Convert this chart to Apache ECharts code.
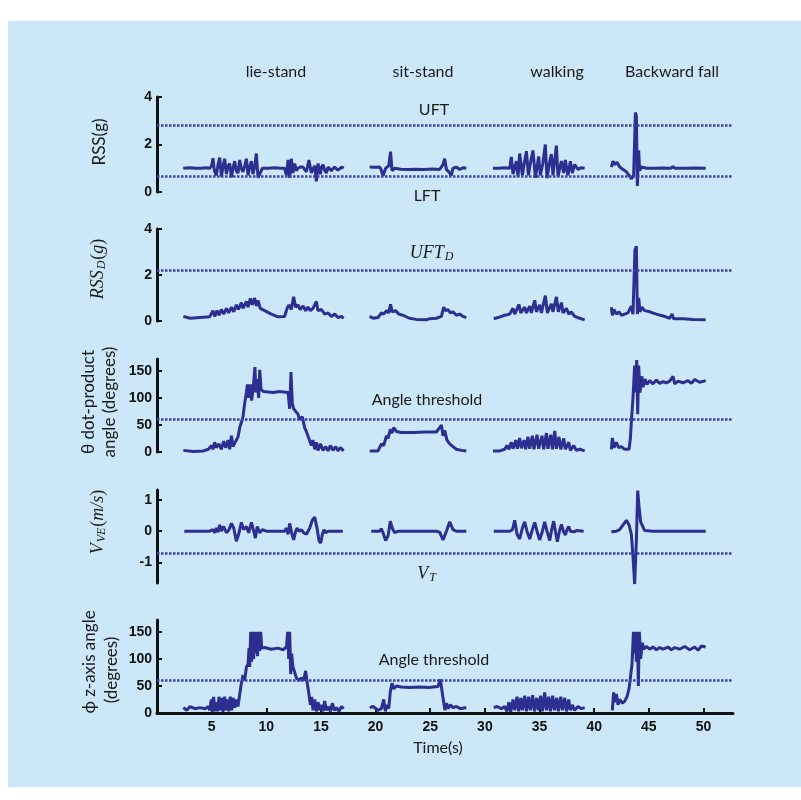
<!DOCTYPE html>
<html>
<head>
<meta charset="utf-8">
<script src="https://cdn.jsdelivr.net/npm/echarts@6/dist/echarts.min.js"></script>
<style>
  html, body { margin: 0; padding: 0; background: #ffffff; }
  #chart { width: 801px; height: 800px; }
</style>
</head>
<body>
<div id="chart"></div>
<script>
// Time axis ticks (s)
const timeTicks = [5, 10, 15, 20, 25, 30, 35, 40, 45, 50];

// Thresholds
const uft = 2.8, lft = 0.65, uftD = 2.2, angleTh = 60, vT = -0.72;

// RSS(g) - one array per activity
const rssLie = [[2.4,1.0],[3.0,1.02],[3.5,1.0],[4.0,1.0],[4.5,1.02],[4.82,1.0],[5.0,1.1],[5.12,1.42],[5.25,0.9],[5.43,0.7],[5.6,1.2],[5.74,1.45],[5.89,0.65],[6.05,1.1],[6.19,1.4],[6.35,0.75],[6.5,1.1],[6.65,1.2],[6.81,0.62],[6.95,1.0],[7.11,1.3],[7.25,0.9],[7.41,0.8],[7.57,1.35],[7.7,1.0],[7.87,0.85],[8.05,1.15],[8.18,1.4],[8.33,0.7],[8.5,1.1],[8.64,1.3],[8.78,0.75],[8.95,1.1],[9.09,1.62],[9.24,0.6],[9.4,0.52],[9.64,1.0],[10.2,1.0],[10.8,1.02],[11.3,1.0],[11.68,1.0],[11.84,0.7],[11.99,1.35],[12.14,0.6],[12.29,1.4],[12.44,0.8],[12.6,1.2],[12.75,0.9],[12.9,1.0],[13.1,1.05],[13.36,1.05],[13.5,0.95],[13.67,0.85],[13.9,1.35],[14.12,0.8],[14.3,1.0],[14.43,1.1],[14.58,0.45],[14.73,1.2],[14.95,0.75],[15.05,1.05],[15.19,1.15],[15.35,0.9],[15.5,0.8],[15.65,1.05],[15.8,1.1],[15.95,0.9],[16.1,0.9],[16.25,1.05],[16.41,1.1],[16.55,0.92],[16.7,0.9],[16.9,1.05],[17.08,1.0]];
const rssSit = [[19.46,1.05],[19.9,1.04],[20.37,1.05],[20.5,0.95],[20.68,0.68],[20.92,1.0],[21.2,1.1],[21.37,1.7],[21.5,0.9],[21.75,1.0],[22.3,0.96],[23.0,0.95],[23.7,0.96],[24.4,0.95],[25.2,0.97],[25.86,0.95],[26.17,1.15],[26.32,1.4],[26.48,0.95],[26.7,0.85],[26.93,0.7],[27.08,1.0],[27.39,1.05],[27.69,0.95],[28.0,1.02],[28.3,1.0]];
const rssWalk = [[30.74,1.0],[31.3,1.0],[31.8,1.02],[32.27,1.0],[32.42,1.48],[32.57,0.75],[32.88,1.3],[33.03,0.65],[33.18,1.62],[33.43,0.7],[33.6,1.2],[33.8,1.72],[33.98,0.7],[34.2,1.3],[34.4,1.75],[34.62,0.6],[34.92,1.5],[35.07,0.7],[35.3,1.2],[35.53,2.0],[35.68,0.58],[35.9,1.2],[36.08,1.6],[36.23,0.7],[36.54,1.95],[36.69,0.65],[36.85,1.0],[37.0,1.3],[37.21,0.8],[37.36,1.35],[37.6,0.7],[37.82,1.3],[38.0,0.8],[38.21,1.15],[38.52,0.95],[38.8,1.02],[39.13,1.0]];
const rssFall = [[41.57,1.05],[41.72,1.3],[41.87,1.15],[42.09,1.25],[42.33,1.05],[42.64,0.95],[42.95,0.85],[43.19,0.7],[43.4,0.55],[43.61,0.7],[43.77,3.35],[43.86,3.2],[43.95,0.25],[44.07,1.75],[44.16,0.9],[44.32,1.05],[44.78,1.0],[45.5,1.0],[46.3,1.01],[47.0,1.0],[47.2,1.06],[47.4,1.0],[48.3,1.0],[49.2,1.01],[50.2,1.0]];

// RSS_D(g)
const rssdLie = [[2.41,0.2],[3.02,0.12],[3.93,0.15],[4.82,0.18],[5.12,0.45],[5.28,0.2],[5.49,0.45],[5.67,0.25],[5.89,0.5],[6.1,0.3],[6.35,0.55],[6.56,0.35],[6.81,0.6],[7.02,0.4],[7.26,0.7],[7.45,0.5],[7.72,0.8],[7.87,0.55],[8.18,0.85],[8.33,0.6],[8.54,0.98],[8.72,0.7],[8.93,1.0],[9.09,0.65],[9.24,0.9],[9.45,0.55],[9.85,0.45],[10.46,0.3],[11.07,0.18],[11.68,0.2],[11.9,0.55],[12.08,0.7],[12.29,0.5],[12.5,1.05],[12.69,0.6],[12.9,0.7],[13.1,0.5],[13.36,0.65],[13.6,0.45],[13.81,0.6],[14.03,0.45],[14.27,0.55],[14.58,0.85],[14.73,0.45],[15.04,0.5],[15.34,0.3],[15.65,0.35],[15.96,0.2],[16.26,0.3],[16.56,0.15],[16.87,0.2],[17.08,0.12]];
const rssdSit = [[19.46,0.2],[19.77,0.12],[20.22,0.15],[20.53,0.35],[20.74,0.3],[21.0,0.45],[21.2,0.35],[21.37,0.72],[21.52,0.4],[21.83,0.45],[22.13,0.3],[22.5,0.25],[23.1,0.12],[23.71,0.07],[24.63,0.05],[24.95,0.1],[25.56,0.12],[26.02,0.2],[26.23,0.6],[26.41,0.45],[26.62,0.5],[26.84,0.35],[27.08,0.4],[27.39,0.25],[27.69,0.3],[28.0,0.2],[28.3,0.15]];
const rssdWalk = [[30.81,0.1],[31.2,0.15],[31.81,0.25],[32.27,0.3],[32.57,0.55],[32.73,0.3],[33.12,0.72],[33.28,0.35],[33.64,0.6],[33.8,0.35],[34.1,0.65],[34.25,0.35],[34.56,0.9],[34.71,0.4],[35.01,0.7],[35.17,0.35],[35.53,1.1],[35.72,0.35],[36.08,0.75],[36.23,0.4],[36.54,1.05],[36.72,0.4],[37.0,0.8],[37.15,0.35],[37.46,0.55],[37.67,0.3],[37.91,0.4],[38.21,0.2],[38.67,0.12],[39.13,0.05]];
const rssdFall = [[41.57,0.6],[41.66,0.25],[41.81,0.5],[42.03,0.3],[42.27,0.4],[42.49,0.25],[42.79,0.3],[43.09,0.35],[43.4,0.65],[43.55,0.3],[43.73,3.1],[43.86,3.25],[43.95,0.3],[44.07,1.0],[44.19,0.4],[44.37,0.6],[44.62,0.45],[45.08,0.4],[45.69,0.3],[46.3,0.22],[46.91,0.12],[47.12,0.3],[47.27,0.1],[48.12,0.1],[49.04,0.07],[50.2,0.05]];

// theta dot-product angle (degrees)
const thetaLie = [[2.41,3],[3.32,1],[4.24,2],[4.7,5],[5.0,12],[5.12,5],[5.28,18],[5.43,8],[5.67,15],[5.89,5],[6.1,20],[6.29,8],[6.5,22],[6.65,5],[6.81,30],[6.96,10],[7.2,20],[7.41,28],[7.57,45],[7.72,55],[7.87,65],[8.02,90],[8.18,110],[8.27,125],[8.39,100],[8.54,125],[8.66,95],[8.81,120],[8.96,157],[9.05,110],[9.17,135],[9.3,100],[9.4,152],[9.52,115],[9.76,112],[10.6,110],[11.22,112],[11.99,110],[12.14,80],[12.26,148],[12.38,90],[12.5,80],[12.69,75],[12.9,70],[13.05,60],[13.3,65],[13.51,45],[13.66,38],[13.9,25],[14.12,12],[14.27,22],[14.43,5],[14.58,18],[14.73,3],[14.95,15],[15.19,3],[15.44,10],[15.65,2],[15.86,12],[16.1,3],[16.35,10],[16.56,2],[16.78,8],[17.08,2]];
const thetaSit = [[19.46,2],[20.22,2],[20.53,15],[20.74,12],[21.0,30],[21.14,25],[21.35,42],[21.5,35],[21.66,45],[21.9,38],[22.35,36],[23.41,36],[24.63,37],[25.56,37],[25.86,45],[26.02,50],[26.17,30],[26.32,40],[26.53,22],[26.78,15],[27.08,10],[27.39,5],[27.85,3],[28.3,2]];
const thetaWalk = [[30.74,2],[31.35,2],[31.81,5],[32.02,12],[32.2,5],[32.42,18],[32.57,6],[32.82,22],[32.97,6],[33.18,26],[33.34,7],[33.58,22],[33.73,5],[33.94,28],[34.1,6],[34.34,30],[34.49,5],[34.77,32],[34.92,6],[35.22,30],[35.38,5],[35.63,35],[35.77,6],[36.02,32],[36.18,5],[36.39,39],[36.54,6],[36.78,28],[36.94,5],[37.21,25],[37.36,5],[37.67,18],[37.82,3],[38.12,12],[38.37,3],[38.67,5],[39.13,2]];
const thetaFall = [[41.57,5],[41.66,26],[41.81,8],[42.03,18],[42.24,8],[42.49,10],[42.79,5],[43.19,5],[43.31,25],[43.43,65],[43.55,100],[43.7,160],[43.8,110],[43.89,170],[43.98,70],[44.07,160],[44.19,110],[44.35,140],[44.47,120],[44.65,135],[44.83,125],[45.08,132],[45.38,126],[45.69,133],[45.99,127],[46.3,130],[46.6,128],[46.91,131],[47.21,140],[47.37,126],[47.67,131],[48.12,128],[48.58,132],[48.89,127],[49.2,134],[49.65,129],[50.2,132]];

// V_VE (m/s)
const vveLie = [[2.5,0],[4.82,0],[5.12,0.05],[5.28,-0.05],[5.43,0.1],[5.58,-0.03],[5.74,0.2],[5.89,0.0],[6.1,0.15],[6.35,-0.05],[6.59,0.05],[6.81,0.25],[7.02,0.1],[7.26,-0.32],[7.47,-0.1],[7.72,0.28],[7.93,0.05],[8.18,0.15],[8.39,-0.05],[8.64,0.28],[8.85,0.0],[9.0,-0.22],[9.17,0.15],[9.4,-0.05],[9.64,0.05],[10.0,0],[11.68,0],[11.84,0.1],[11.99,-0.1],[12.14,0.25],[12.32,-0.05],[12.5,-0.28],[12.69,0.0],[12.81,0.1],[12.99,0.0],[13.2,0.05],[13.42,-0.05],[13.67,-0.1],[13.97,0.1],[14.21,0.35],[14.43,0.45],[14.64,0.1],[14.82,-0.3],[14.98,-0.38],[15.13,-0.1],[15.28,0.05],[15.44,-0.05],[15.65,0],[17.0,0]];
const vveSit = [[19.6,0],[20.37,0],[20.53,0.08],[20.68,-0.05],[20.92,-0.3],[21.14,-0.15],[21.35,0.32],[21.52,0.1],[21.75,-0.05],[22.05,0],[25.56,0],[25.86,-0.03],[26.17,-0.28],[26.48,0.0],[26.78,0.3],[27.08,0.05],[27.39,0],[28.3,0]];
const vveWalk = [[30.81,0],[32.27,0],[32.52,0.05],[32.73,0.35],[32.94,-0.1],[33.18,-0.25],[33.43,0.1],[33.64,0.3],[33.85,0.0],[34.1,-0.25],[34.34,0.05],[34.56,0.28],[34.77,0],[35.01,-0.28],[35.26,0.0],[35.47,0.3],[35.68,0.0],[35.93,-0.3],[36.08,0.0],[36.29,0.32],[36.45,0.0],[36.63,-0.34],[36.82,0.0],[37.0,0.22],[37.18,0.0],[37.36,-0.12],[37.51,0.05],[37.67,0.15],[37.82,0.0],[37.97,0.05],[38.15,-0.02],[38.37,0.02],[39.04,0]];
const vveFall = [[41.57,-0.02],[42.03,0.0],[42.33,0.05],[42.64,0.2],[42.95,0.35],[43.19,0.2],[43.4,-0.1],[43.55,-0.8],[43.7,-1.7],[43.86,-0.3],[43.98,1.3],[44.1,0.8],[44.25,0.3],[44.41,0.25],[44.62,0.02],[45.38,0],[50.2,0]];

// phi z-axis angle (degrees), clipped at 150
const phiLie = [[2.41,10],[2.72,5],[3.02,12],[3.48,8],[3.93,10],[4.39,8],[4.7,12],[4.82,5],[4.97,25],[5.06,2],[5.18,30],[5.3,3],[5.43,20],[5.55,3],[5.67,30],[5.8,5],[5.92,28],[6.04,2],[6.19,30],[6.32,5],[6.44,25],[6.56,3],[6.71,30],[6.84,5],[6.96,28],[7.11,10],[7.26,25],[7.41,12],[7.57,35],[7.72,55],[7.87,70],[8.02,60],[8.18,85],[8.33,90],[8.42,120],[8.48,85],[8.57,150],[8.66,95],[8.75,150],[8.84,100],[8.93,150],[9.02,110],[9.11,150],[9.2,105],[9.3,150],[9.4,115],[9.49,150],[9.58,120],[9.85,121],[10.46,118],[11.07,120],[11.53,117],[11.84,122],[11.96,150],[12.05,100],[12.14,150],[12.23,72],[12.32,110],[12.44,85],[12.6,75],[12.75,65],[12.99,60],[13.2,65],[13.42,60],[13.6,78],[13.75,55],[13.9,35],[14.03,15],[14.15,30],[14.27,5],[14.43,25],[14.58,3],[14.73,20],[14.89,5],[15.04,15],[15.19,3],[15.34,22],[15.5,5],[15.65,12],[15.86,3],[16.04,18],[16.23,5],[16.41,10],[16.65,3],[16.87,12],[17.08,8]];
const phiSit = [[19.46,10],[19.77,12],[20.22,5],[20.53,8],[20.74,25],[20.89,3],[21.05,15],[21.2,8],[21.35,40],[21.5,55],[21.66,45],[21.9,50],[22.35,48],[23.1,47],[24.02,48],[24.94,47],[25.25,48],[25.71,49],[25.93,62],[26.08,40],[26.23,20],[26.35,5],[26.48,18],[26.62,8],[26.84,15],[27.08,10],[27.39,12],[27.76,8],[28.3,10]];
const phiWalk = [[30.81,10],[31.11,12],[31.51,8],[31.81,12],[32.02,3],[32.2,20],[32.36,2],[32.57,25],[32.73,5],[32.94,30],[33.09,3],[33.28,28],[33.43,5],[33.64,32],[33.8,3],[34.0,30],[34.16,5],[34.37,33],[34.53,3],[34.74,28],[34.89,5],[35.1,32],[35.26,3],[35.47,38],[35.63,5],[35.84,30],[35.99,3],[36.2,32],[36.36,5],[36.57,28],[36.72,3],[36.94,30],[37.09,5],[37.3,28],[37.46,3],[37.67,25],[37.82,5],[38.0,15],[38.21,5],[38.52,12],[38.83,8],[39.13,10]];
const phiFall = [[41.66,5],[41.78,38],[41.9,20],[42.03,35],[42.18,15],[42.33,25],[42.58,18],[42.79,22],[43.0,30],[43.19,45],[43.34,70],[43.46,90],[43.59,150],[43.68,110],[43.77,150],[43.86,95],[43.95,150],[44.04,50],[44.13,150],[44.25,100],[44.41,130],[44.53,118],[44.78,123],[45.08,118],[45.38,122],[45.69,117],[45.99,121],[46.3,118],[46.75,122],[47.06,117],[47.37,121],[47.82,118],[48.28,123],[48.74,117],[49.2,122],[49.5,116],[49.81,124],[50.2,122]];

const panels = [
  { segs: [rssLie, rssSit, rssWalk, rssFall], th: [uft, lft], min: 0, max: 4, ticks: [0, 2, 4], top: 97, height: 95 },
  { segs: [rssdLie, rssdSit, rssdWalk, rssdFall], th: [uftD], min: 0, max: 4, ticks: [0, 2, 4], top: 229, height: 92 },
  { segs: [thetaLie, thetaSit, thetaWalk, thetaFall], th: [angleTh], min: 0, max: 172, ticks: [0, 50, 100, 150], top: 359, height: 93 },
  { segs: [vveLie, vveSit, vveWalk, vveFall], th: [vT], min: -1.66, max: 1.32, ticks: [-1, 0, 1], top: 490, height: 93 },
  { segs: [phiLie, phiSit, phiWalk, phiFall], th: [angleTh], min: 0, max: 172, ticks: [0, 50, 100, 150], top: 620, height: 93 }
];

const lineColor = '#2c2f8f';
const dashColor = '#3d40a2';
const textFont = 'Lato, "Open Sans", sans-serif';
const mathFont = '"Liberation Serif", "DejaVu Serif", serif';
const tickFont = '"Liberation Sans", Arial, sans-serif';

const chart = echarts.init(document.getElementById('chart'));

let grids = [], xAxes = [], yAxes = [], series = [];
panels.forEach((p, i) => {
  const last = i === panels.length - 1;
  grids.push({ left: 157, width: 576, top: p.top, height: p.height });
  xAxes.push({
    type: 'value', gridIndex: i, min: 0, max: 52.7,
    axisLine: { show: last, onZero: false, lineStyle: { color: '#111', width: 3 } },
    axisTick: { show: last, inside: true, length: 5, customValues: timeTicks, lineStyle: { color: '#111', width: 2 } },
    axisLabel: { show: last, customValues: timeTicks, margin: 7, color: '#111', fontWeight: 'bold', fontSize: 14, fontFamily: tickFont },
    splitLine: { show: false }
  });
  yAxes.push({
    type: 'value', gridIndex: i, min: p.min, max: p.max,
    axisLine: { show: true, lineStyle: { color: '#111', width: 3 } },
    axisTick: { show: true, inside: true, length: 5, customValues: p.ticks, lineStyle: { color: '#111', width: 2 } },
    axisLabel: { customValues: p.ticks, margin: 5, color: '#111', fontWeight: 'bold', fontSize: 14, fontFamily: tickFont },
    splitLine: { show: false }
  });
  p.segs.forEach((seg, k) => {
    const s = {
      type: 'line', xAxisIndex: i, yAxisIndex: i, data: seg,
      showSymbol: false, animation: false,
      lineStyle: { color: lineColor, width: 3 }
    };
    if (k === 0) {
      s.markLine = {
        silent: true, symbol: 'none', animation: false,
        label: { show: false },
        lineStyle: { color: dashColor, width: 2.5, type: [2.5, 1.5] },
        data: p.th.map(v => ({ yAxis: v }))
      };
    }
    series.push(s);
  });
});

// text helpers
function label(text, x, y, extra) {
  return {
    type: 'text', x: x, y: y, silent: true,
    style: Object.assign({ text: text, font: '16px ' + textFont, fill: '#1a1a1a', textAlign: 'center', textVerticalAlign: 'middle' }, extra || {})
  };
}
function vlabel(text, x, y, extra) {
  const t = label(text, x, y, extra);
  t.rotation = Math.PI / 2;
  return t;
}
const subRich = {
  m: { fontFamily: mathFont, fontStyle: 'italic', fontSize: 18, fill: '#1a1a1a' },
  n: { fontFamily: mathFont, fontSize: 18, fill: '#1a1a1a' },
  s: { fontFamily: mathFont, fontStyle: 'italic', fontSize: 12, fill: '#1a1a1a', padding: [8, 1, 0, 1] }
};

const graphics = [
  { type: 'rect', z: -10, silent: true, shape: { x: 8, y: 21, width: 793, height: 766 }, style: { fill: '#cce8f8' } },
  label('lie-stand', 276, 72),
  label('sit-stand', 423, 72),
  label('walking', 557, 72),
  label('Backward fall', 672, 72),
  label('UFT', 434, 110),
  label('LFT', 427, 196),
  label('{m|UFT}{s|D}', 432, 253, { rich: subRich }),
  label('Angle threshold', 427, 400),
  label('{m|V}{s|T}', 427, 574, { rich: subRich }),
  label('Angle threshold', 434, 660),
  label('Time(s)', 438, 748),
  vlabel('RSS(g)', 100, 142, { font: '17px ' + textFont }),
  vlabel('{m|RSS}{s|D}{n|(}{m|g}{n|)}', 98, 269, { rich: subRich }),
  vlabel('θ dot-product', 89, 402, { font: '17px ' + textFont }),
  vlabel('angle (degrees)', 110, 402, { font: '17px ' + textFont }),
  vlabel('{m|V}{s|VE}{n|(}{m|m/s}{n|)}', 98, 522, { rich: subRich }),
  vlabel('ϕ z-axis angle', 90, 662, { font: '17px ' + textFont }),
  vlabel('(degrees)', 112, 670, { font: '17px ' + textFont })
];

chart.setOption({
  backgroundColor: 'transparent',
  animation: false,
  grid: grids,
  xAxis: xAxes,
  yAxis: yAxes,
  series: series,
  graphic: graphics
});
</script>
</body>
</html>
